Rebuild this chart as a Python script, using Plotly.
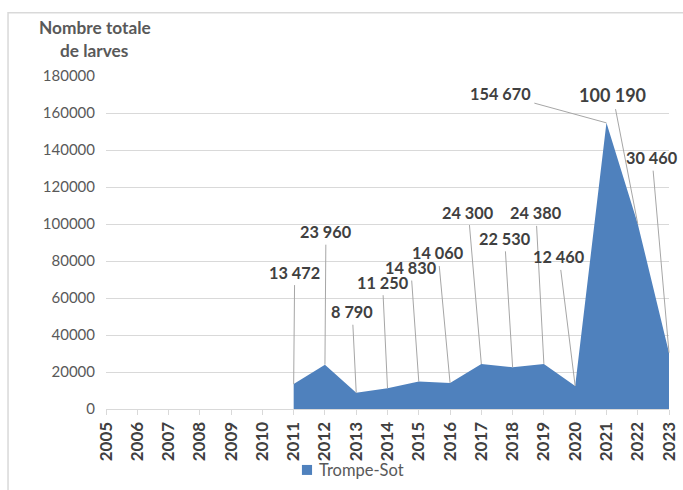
import plotly.graph_objects as go

years = list(range(2005, 2024))
larves = [None, None, None, None, None, None,
          13472, 23960, 8790, 11250, 14830, 14060, 24300, 22530, 24380, 12460,
          154670, 100190, 30460]
series_name = "Trompe-Sot"
y_title = ["Nombre totale", "de larves"]

# label offsets (pixels) relative to each point
label_offsets = {
    2011: (1, -112), 2012: (1, -133), 2013: (-4, -81), 2014: (-5, -106),
    2015: (-8, -114), 2016: (-12, -130), 2017: (-13, -152), 2018: (-8, -129),
    2019: (-8, -151), 2020: (-16, -129), 2021: (-106, -29), 2022: (-25, -129),
    2023: (-17, -195),
}

xs = [y for y, v in zip(years, larves) if v is not None]
vs = [v for v in larves if v is not None]
BLUE = "#4f81bd"

fig = go.Figure()
fig.add_trace(go.Scatter(
    x=xs, y=vs, mode="lines", fill="tozeroy", name=series_name,
    line=dict(color=BLUE, width=0), fillcolor=BLUE, showlegend=False,
))

FONT = "Lato"
annotations = []
for yr, v in zip(xs, vs):
    ax, ay = label_offsets[yr]
    size = 18 if yr == 2022 else 16.3
    annotations.append(dict(
        x=yr, y=v, xref="x", yref="y", ax=ax, ay=ay,
        text="<b>" + f"{v:,}".replace(",", " ") + "</b>",
        showarrow=True, arrowhead=0, arrowwidth=1, arrowcolor="#a6a6a6",
        standoff=0, startstandoff=2,
        font=dict(family=FONT, size=size, color="#404040"),
    ))

annotations.append(dict(x=-0.02, y=1.147, xref="paper", yref="paper", showarrow=False,
                        text="<b>" + y_title[0] + "</b>", xanchor="center", yanchor="middle",
                        font=dict(family=FONT, size=17.3, color="#595959")))
annotations.append(dict(x=-0.02, y=1.078, xref="paper", yref="paper", showarrow=False,
                        text="<b>" + y_title[1] + "</b>", xanchor="center", yanchor="middle",
                        font=dict(family=FONT, size=17.3, color="#595959")))
# legend text (swatch drawn as a shape)
annotations.append(dict(x=0.374, y=-0.183, xref="paper", yref="paper", showarrow=False,
                        text=series_name, xanchor="left", yanchor="middle",
                        font=dict(family=FONT, size=16.5, color="#595959")))

fig.update_layout(
    width=683, height=490,
    margin=dict(l=106, r=14, t=76, b=81, autoexpand=False),
    paper_bgcolor="white", plot_bgcolor="white",
    font=dict(family=FONT, color="#595959"),
    annotations=annotations,
    showlegend=False,
    shapes=[
        dict(type="rect", xref="paper", yref="paper",
             x0=-0.174, x1=1.3, y0=-0.3, y1=1.19,
             line=dict(color="#d9d9d9", width=1.5), layer="below"),
        dict(type="rect", xref="paper", yref="paper",
             x0=0.348, x1=0.366, y0=-0.198, y1=-0.168,
             line=dict(width=0), fillcolor=BLUE),
    ],
)
fig.update_xaxes(
    range=[2005, 2023], tickmode="array", tickvals=years,
    ticktext=["<b>%d</b>" % y for y in years], tickangle=-90,
    tickfont=dict(family=FONT, size=17, color="#404040"),
    showgrid=False, showline=True, linecolor="#d9d9d9", linewidth=1,
    ticks="outside", ticklen=5, tickcolor="#d9d9d9", zeroline=False,
    automargin=False,
)
fig.update_yaxes(
    range=[0, 180000], dtick=20000, tickformat="d",
    tickfont=dict(family=FONT, size=15, color="#595959"),
    showgrid=True, gridcolor="#d9d9d9", gridwidth=1, zeroline=False,
    showline=False, ticks="", ticklabelstandoff=10, automargin=False,
)

fig.write_html("out.html")
